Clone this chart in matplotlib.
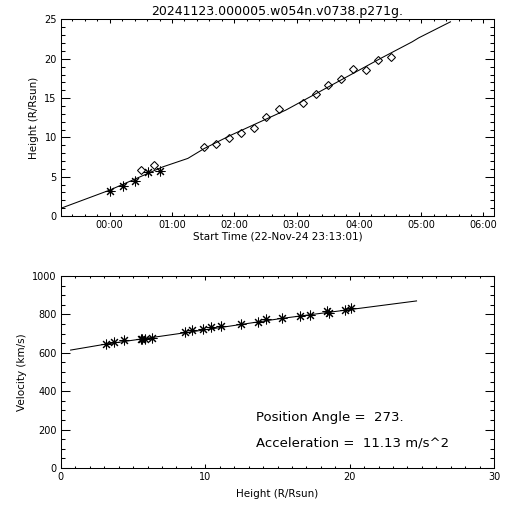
import matplotlib
matplotlib.use("Agg")
import matplotlib.pyplot as plt
from matplotlib.ticker import MultipleLocator

plt.rcParams['font.family'] = ['DejaVu Sans']

title = "20241123.000005.w054n.v0738.p271g."

# height-time measurements (hours from 00:00 on 23-Nov)
star_time = [0.0, 0.22, 0.41, 0.62, 0.81]
star_height = [3.2, 3.86, 4.45, 5.59, 5.72]
diam_time = [0.51, 0.71, 1.51, 1.71, 1.91, 2.11, 2.31, 2.51, 2.71,
             3.11, 3.31, 3.51, 3.71, 3.91, 4.11, 4.31, 4.51]
diam_height = [5.81, 6.44, 8.73, 9.15, 9.87, 10.51, 11.19, 12.54, 13.64,
               14.41, 15.47, 16.61, 17.37, 18.64, 18.56, 19.83, 20.21]

# fitted height-time curve
fit_time = [-0.78, 0.0, 0.854, 1.254, 1.52, 1.947, 2.826, 4.347, 4.854, 4.96, 5.47]
fit_height = [1.0, 3.3, 6.26, 7.33, 8.6, 10.29, 13.47, 20.04, 22.15, 22.66, 24.7]

# velocity vs height
vel_height = [3.09, 3.71, 4.36, 5.55, 5.62, 5.8, 6.31, 8.62, 9.08, 9.84, 10.39,
              11.08, 12.49, 13.64, 14.19, 15.3, 16.57, 17.26, 18.45, 18.59,
              19.7, 20.07]
velocity = [645, 656, 664, 673, 671, 674, 676, 708, 717, 723, 734,
            739, 751, 760, 774, 779, 793, 798, 816, 805, 823, 835]
vfit_height = [0.67, 3.1, 8.85, 15.3, 24.63]
vfit_velocity = [614, 645, 707, 779, 870]

hour_ticks = [0, 1, 2, 3, 4, 5, 6]
hour_labels = ["00:00", "01:00", "02:00", "03:00", "04:00", "05:00", "06:00"]

position_angle = "273."
acceleration = "11.13"

lw = 0.75
star = (8, 2, 0)

fig = plt.figure(figsize=(5.12, 5.12), dpi=100)
ax1 = fig.add_axes([0.119, 0.578, 0.846, 0.384])
ax2 = fig.add_axes([0.119, 0.086, 0.846, 0.375])

for ax in (ax1, ax2):
    for s in ax.spines.values():
        s.set_linewidth(lw)
    ax.tick_params(which='both', direction='in', top=True, right=True,
                   labelsize=7, width=lw, pad=3)
    ax.tick_params(axis='x', which='major', length=3.2)
    ax.tick_params(axis='x', which='minor', length=1.6)
    ax.tick_params(axis='y', which='major', length=6.2)
    ax.tick_params(axis='y', which='minor', length=3.1)

# top panel
ax1.plot(fit_time, fit_height, color='black', lw=lw)
ax1.plot(star_time, star_height, linestyle='none', marker=star, ms=7,
         mec='black', mew=lw)
ax1.plot(diam_time, diam_height, linestyle='none', marker='D', ms=4.4,
         mfc='none', mec='black', mew=lw)
ax1.set_xlim(-0.783, 6.17)
ax1.set_ylim(0, 25)
ax1.set_xticks(hour_ticks)
ax1.set_xticklabels(hour_labels)
ax1.xaxis.set_minor_locator(MultipleLocator(0.2))
ax1.yaxis.set_major_locator(MultipleLocator(5))
ax1.yaxis.set_minor_locator(MultipleLocator(1))
ax1.set_xlabel("Start Time (22-Nov-24 23:13:01)", fontsize=7.5, labelpad=1)
ax1.set_ylabel("Height (R/Rsun)", fontsize=7.5, labelpad=4)
ax1.set_title(title, fontsize=9, pad=3)

# bottom panel
ax2.plot(vfit_height, vfit_velocity, color='black', lw=lw)
ax2.plot(vel_height, velocity, linestyle='none', marker=star, ms=7,
         mec='black', mew=lw)
ax2.set_xlim(0, 30)
ax2.set_ylim(0, 1000)
ax2.xaxis.set_major_locator(MultipleLocator(10))
ax2.xaxis.set_minor_locator(MultipleLocator(1))
ax2.yaxis.set_major_locator(MultipleLocator(200))
ax2.yaxis.set_minor_locator(MultipleLocator(50))
ax2.set_xlabel("Height (R/Rsun)", fontsize=7.5, labelpad=5)
ax2.set_ylabel("Velocity (km/s)", fontsize=7.5, labelpad=4)
ax2.text(13.5, 264, "Position Angle =  " + position_angle, fontsize=9.5,
         va='center')
ax2.text(13.5, 129, "Acceleration =  " + acceleration + " m/s^2", fontsize=9.5,
         va='center')

fig.savefig("out.png", dpi=100)
